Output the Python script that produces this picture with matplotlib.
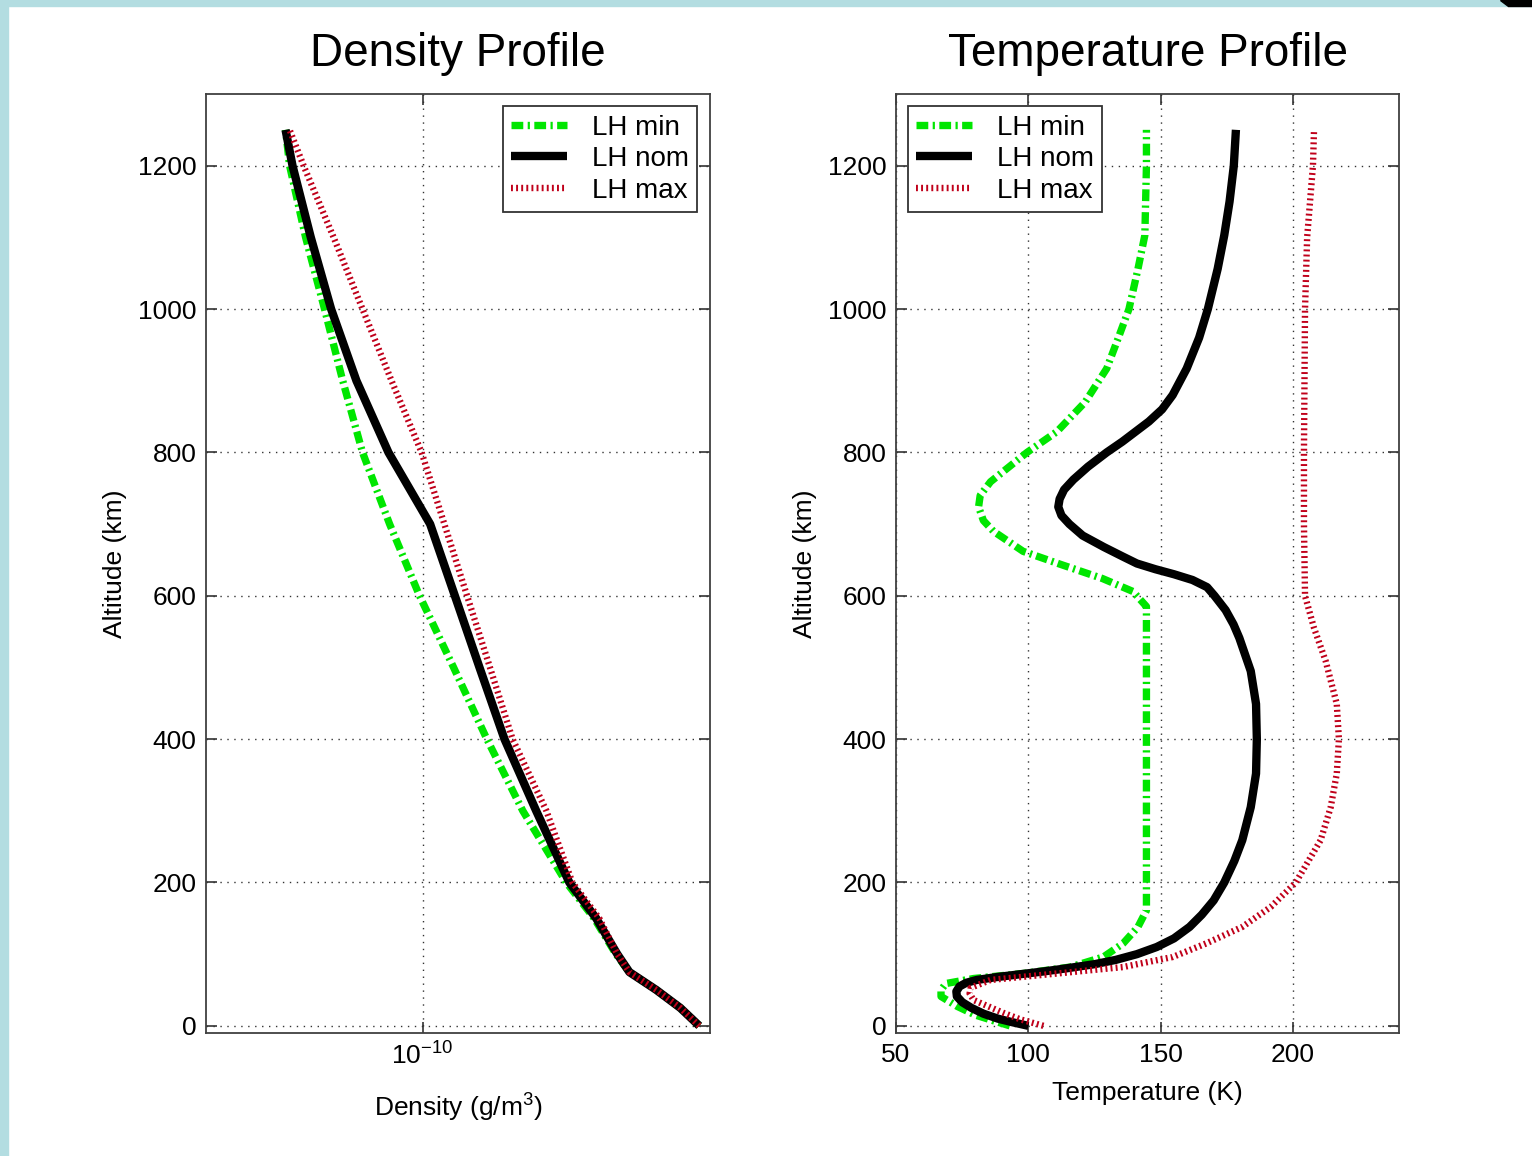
import matplotlib
matplotlib.use("Agg")
import matplotlib.pyplot as plt
from matplotlib.patches import Rectangle, Polygon

plt.rcParams['font.family'] = ['Liberation Sans', 'DejaVu Sans']
plt.rcParams['mathtext.fontset'] = 'custom'
plt.rcParams['mathtext.rm'] = 'Liberation Sans'
plt.rcParams['mathtext.it'] = 'Liberation Sans'

# ---------------- data ----------------
series_names = ["LH min", "LH nom", "LH max"]

# Density profile (g/m^3) vs altitude (km)
dens_alt = [0, 25, 50, 75, 100, 150, 200, 300, 400, 500, 600, 700, 800, 900, 1000, 1100, 1200, 1250]
dens_min = [5.88e-10, 5.21e-10, 4.47e-10, 3.76e-10, 3.45e-10, 3.00e-10, 2.51e-10, 1.90e-10, 1.51e-10,
            1.22e-10, 9.81e-11, 8.10e-11, 6.81e-11, 6.00e-11, 5.34e-11, 4.73e-11, 4.27e-11, 4.16e-11]
dens_nom = [5.88e-10, 5.21e-10, 4.47e-10, 3.76e-10, 3.48e-10, 3.04e-10, 2.56e-10, 2.07e-10, 1.69e-10,
            1.44e-10, 1.23e-10, 1.05e-10, 8.04e-11, 6.55e-11, 5.57e-11, 4.89e-11, 4.35e-11, 4.16e-11]
dens_max = [5.88e-10, 5.21e-10, 4.47e-10, 3.76e-10, 3.48e-10, 3.10e-10, 2.61e-10, 2.21e-10, 1.78e-10,
            1.54e-10, 1.33e-10, 1.15e-10, 9.94e-11, 8.20e-11, 6.81e-11, 5.66e-11, 4.67e-11, 4.27e-11]

# Temperature profile (K) vs altitude (km)
tmin_alt = [0, 4, 15, 27, 41, 50, 59, 66, 73, 82, 96, 115, 138, 161, 200, 300, 400, 500, 585, 606, 624,
            644, 662, 690, 705, 724, 740, 759, 800, 829, 870, 917, 960, 1000, 1056, 1103, 1200, 1250]
tmin_val = [93, 89.5, 80, 73.2, 67, 67, 68.8, 79.3, 98, 115.8, 128.3, 135.8, 141.4, 144.6, 144.6, 144.6,
            144.6, 144.6, 144.6, 139.5, 128, 112, 98, 86.8, 83, 81.2, 81.8, 85.7, 99.5, 110.8, 121.4,
            129.6, 134, 138, 141.4, 144, 144.6, 144.6]

tnom_alt = [0, 5, 10, 17, 25, 33, 41, 48, 55, 60, 64, 68, 72, 76, 80, 86, 92, 100, 110, 122, 138, 155,
            175, 200, 230, 259, 305, 352, 400, 449, 495, 541, 560, 580, 600, 612, 622, 630, 637, 645,
            655, 668, 684, 700, 712, 724, 735, 748, 762, 780, 800, 815, 829, 843, 860, 880, 917, 960,
            1000, 1056, 1103, 1150, 1200, 1250]
tnom_val = [100, 94, 88.5, 83, 78.5, 75, 73, 72.8, 74, 76.5, 80.5, 88, 97, 106, 114, 125, 133, 141,
            148.5, 155, 160.9, 165.5, 170, 174, 177.8, 180.8, 184, 186, 186.3, 186, 184, 179.7, 177.5,
            174.5, 170.3, 167.5, 162, 155, 148, 141, 135.5, 128.5, 120.5, 115.5, 112.5, 111.3, 111.8,
            113.5, 117, 122.5, 129.6, 135.5, 140.5, 145.5, 150.5, 154.5, 159.8, 164.5, 167.8, 171.5,
            174, 176, 177.6, 178.4]

tmax_alt = [0, 9, 18, 36, 45, 53, 64, 73, 82, 96, 115, 138, 166, 200, 259, 305, 352, 400, 449, 509, 555,
            600, 700, 800, 900, 1000, 1100, 1200, 1250]
tmax_val = [105.7, 97, 90.6, 79.3, 77.8, 78.2, 85.7, 110.8, 135.8, 154.5, 167.2, 180.8, 191.6, 201,
            210.4, 214.2, 216.5, 217.3, 216.5, 212.3, 207.9, 204.5, 204.1, 204.1, 204.3, 204.5, 205.3,
            207.5, 207.9]

alt_ticks = [0, 200, 400, 600, 800, 1000, 1200]
temp_ticks = [50, 100, 150, 200]
dens_ticks = [1e-10]
dens_ticklabels = [r"$\mathregular{10^{-10}}$"]

# ---------------- styles ----------------
green = "#00E600"
red = "#C0001A"
style_min = dict(color=green, lw=5.3, dashes=(1.6, 0.6, 0.3, 0.6), dash_capstyle='butt',
                 solid_joinstyle='round')
style_nom = dict(color="black", lw=6.0, solid_capstyle='butt', solid_joinstyle='round')
style_max = dict(color=red, lw=4.6, dashes=(0.3, 0.5), dash_capstyle='butt')

W, H = 1532, 1156
fig = plt.figure(figsize=(W / 100, H / 100), dpi=100)
fig.patch.set_facecolor("white")

# decorative slide border
fig.patches.append(Rectangle((0, 0), 8 / W, 1, transform=fig.transFigure, color="#B3DDE1", zorder=0))
fig.patches.append(Rectangle((0, 1 - 6 / H), 1, 6 / H, transform=fig.transFigure, color="#B3DDE1", zorder=0))
fig.patches.append(Polygon([(1500 / W, 1), (1, 1), (1, 1 - 6 / H), (1508 / W, 1 - 6 / H)],
                           closed=True, transform=fig.transFigure, color="black", zorder=1))

ax1 = fig.add_axes([206 / W, 1 - 1033 / H, 504 / W, 939 / H])
ax2 = fig.add_axes([896 / W, 1 - 1033 / H, 503 / W, 939 / H])

fs_tick = 19
fs_label = 19
fs_leg = 20
fs_title = 33

ax1.plot(dens_min, dens_alt, label=series_names[0], **style_min)
ax1.plot(dens_nom, dens_alt, label=series_names[1], **style_nom)
ax1.plot(dens_max, dens_alt, label=series_names[2], **style_max)
ax1.set_xscale("log")
ax1.set_xlim(2.5e-11, 6.3e-10)
ax1.set_xticks(dens_ticks)
ax1.set_xticklabels(dens_ticklabels)
ax1.xaxis.set_minor_locator(matplotlib.ticker.NullLocator())
ax1.set_xlabel(r"Density (g/m$^\mathregular{3}$)", fontsize=fs_label, labelpad=16)
ax1.set_title("Density Profile", fontsize=fs_title, pad=20)

ax2.plot(tmin_val, tmin_alt, label=series_names[0], **style_min)
ax2.plot(tnom_val, tnom_alt, label=series_names[1], **style_nom)
ax2.plot(tmax_val, tmax_alt, label=series_names[2], **style_max)
ax2.set_xlim(50, 240)
ax2.set_xticks(temp_ticks)
ax2.set_xlabel("Temperature (K)", fontsize=fs_label, labelpad=10)
ax2.set_title("Temperature Profile", fontsize=fs_title, pad=20)

for ax in (ax1, ax2):
    ax.set_ylim(-10, 1300)
    ax.set_yticks(alt_ticks)
    ax.set_ylabel("Altitude (km)", fontsize=fs_label, labelpad=8)
    ax.grid(True, which="major", linestyle=(0, (1, 4)), color="#333333", lw=1.0)
    ax.tick_params(which="both", direction="in", length=8, width=1.2, top=True, right=True,
                   labelsize=fs_tick, color="#333333", pad=7)
    for s in ax.spines.values():
        s.set_color("#404040")
        s.set_linewidth(1.3)

leg_kw = dict(borderaxespad=0, fontsize=fs_leg, fancybox=False, framealpha=1, edgecolor="#333333",
              handlelength=2.0, handletextpad=0.9, labelspacing=0.2, borderpad=0.3)
leg1 = ax1.legend(loc="upper right", bbox_to_anchor=(0.974, 0.987), **leg_kw)
leg2 = ax2.legend(loc="upper left", bbox_to_anchor=(0.024, 0.987), **leg_kw)
for leg in (leg1, leg2):
    leg.get_frame().set_linewidth(1.3)

fig.savefig("out.png", dpi=100)
